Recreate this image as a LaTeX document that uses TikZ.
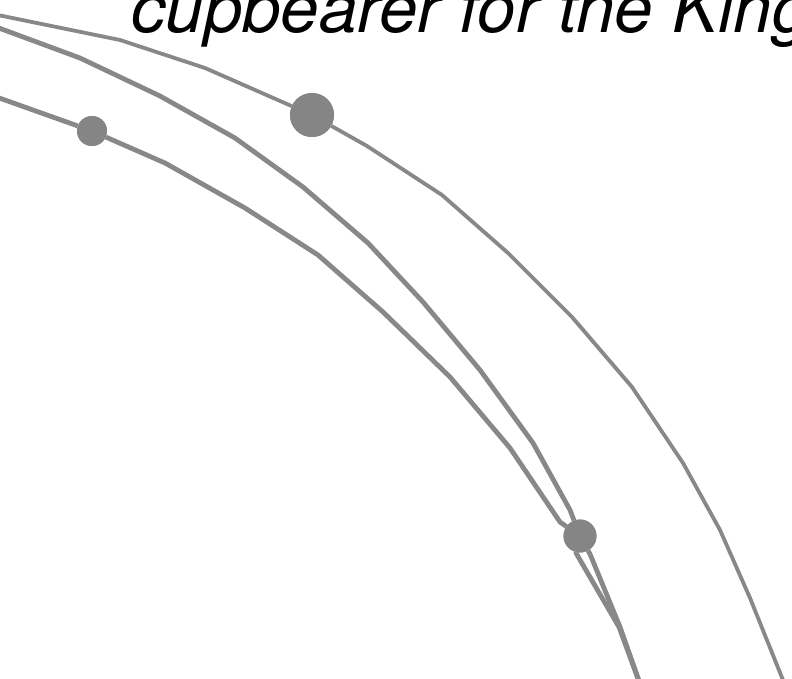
\documentclass[tikz,border=0pt]{standalone}
\usepackage{fontspec}
\setsansfont{TeX Gyre Heros}
\usepackage{xcolor}
\definecolor{cEdge}{HTML}{888888}
\definecolor{cDot} {HTML}{858585}
\usepackage{tikz}
\usetikzlibrary{positioning}
\tikzset{
  dot/.style   = {circle, fill=cDot, inner sep=0pt, minimum size=#1},
  dot/.default = 30pt,
  edg/.style   = {draw=cEdge, line width=#1, line join=round},
  edg/.default = 4pt,
  lbl/.style   = {font=\sffamily\itshape\fontsize{69}{80}\selectfont,
                  inner sep=0pt, anchor=base west},
}

\begin{document}
\begin{tikzpicture}[x=1pt, y=-1pt]

  \useasboundingbox (0,0) rectangle (792,678);
  \clip (0,0) rectangle (792,678);

  % free ends outside the frame
  \coordinate (aIn)  at (-12,13);
  \coordinate (bIn)  at (-12,24);
  \coordinate (cIn)  at (-12,94);
  \coordinate (aOut) at (789,695);
  \coordinate (bOut) at (644,695);

  \node[dot=44pt] (king) at (312,115) {};
  \node[dot=30pt] (cup)  at (92,131)  {};
  \node[dot=33pt] (jct)  at (580,536) {};

  \node[lbl] (title) at (131,32) {cupbearer for the King};

  % outer arc
  \draw[edg=3.8pt] (aIn) -- (120,40) -- (205,68) -- (king)
        -- (367,146) -- (442,195) -- (508,253) -- (572,317)
        -- (632,387) -- (683,463) -- (720,530) -- (750,598) -- (aOut);

  % middle arc
  \draw[edg=4.8pt] (bIn) -- (80,58) -- (160,96) -- (235,138)
        -- (303,187) -- (368,243) -- (423,302) -- (480,370)
        -- (533,443) -- (570,510) -- (jct)
        -- (590,554) -- (620,627) -- (bOut);

  % inner arc
  \draw[edg=4.8pt] (cIn) -- (cup) -- (165,163) -- (245,208)
        -- (318,255) -- (383,312) -- (450,377) -- (510,448)
        -- (560,522) -- (jct)
        -- (576,553) -- (619,627) -- (bOut);

  % dots on top
  \node[dot=44pt] at (king) {};
  \node[dot=30pt] at (cup)  {};
  \node[dot=33pt] at (jct)  {};

\end{tikzpicture}
\end{document}
